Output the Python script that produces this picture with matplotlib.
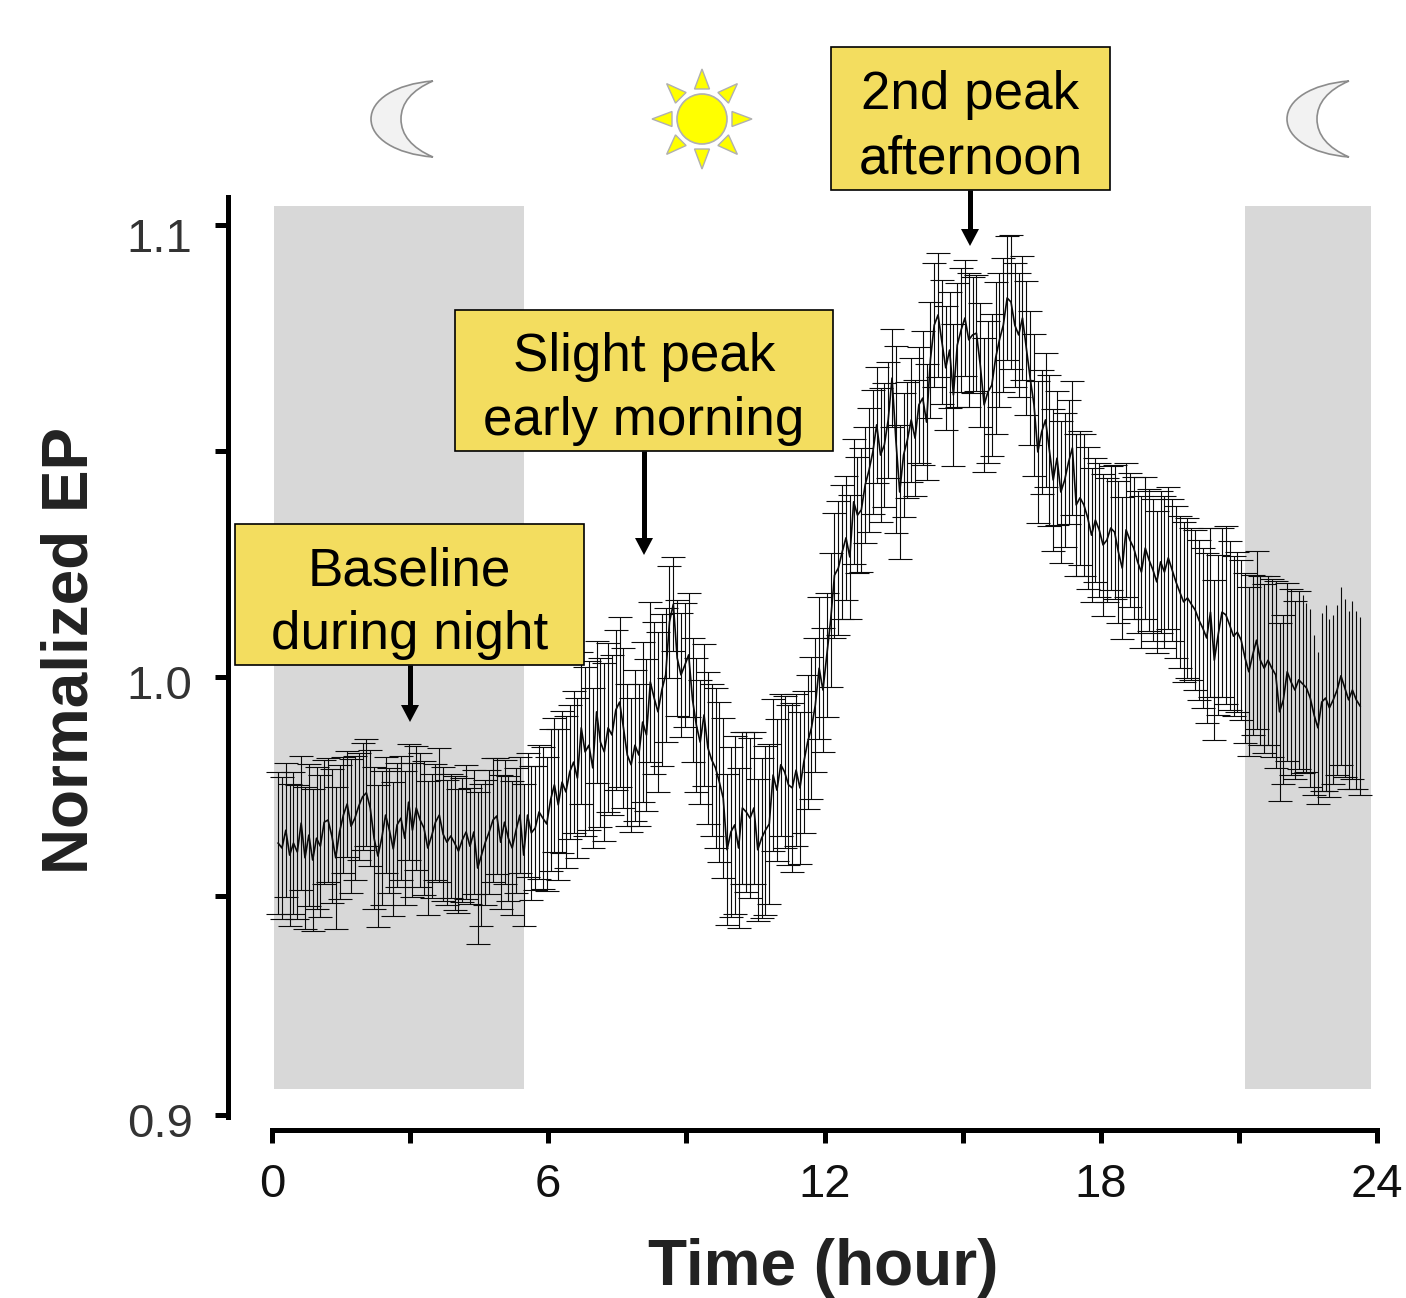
import numpy as np
import matplotlib
matplotlib.use('Agg')
import matplotlib.pyplot as plt
from matplotlib.patches import Polygon, Rectangle, Circle, PathPatch
from matplotlib.path import Path
from matplotlib.transforms import ScaledTranslation

plt.rcParams['font.family'] = ['Liberation Sans', 'DejaVu Sans']

# time of each sample, minutes after midnight
minutes = [8, 13, 18, 23, 28, 33, 38, 43, 48, 53,
           58, 63, 68, 73, 78, 83, 88, 93, 98, 103,
           108, 113, 118, 123, 128, 133, 138, 143, 148, 153,
           158, 163, 168, 173, 178, 183, 188, 193, 198, 203,
           208, 213, 218, 223, 228, 233, 238, 243, 248, 253,
           258, 263, 268, 273, 278, 283, 288, 293, 298, 303,
           308, 313, 318, 323, 328, 333, 338, 343, 348, 353,
           358, 363, 368, 373, 378, 383, 388, 393, 398, 403,
           408, 413, 418, 423, 428, 433, 438, 443, 448, 453,
           458, 463, 468, 473, 478, 483, 488, 493, 498, 503,
           508, 513, 518, 523, 528, 533, 538, 543, 548, 553,
           558, 563, 568, 573, 578, 583, 588, 593, 598, 603,
           608, 613, 618, 623, 628, 633, 638, 643, 648, 653,
           658, 663, 668, 673, 678, 683, 688, 693, 698, 703,
           708, 713, 718, 723, 728, 733, 738, 743, 748, 753,
           758, 763, 768, 773, 778, 783, 788, 793, 798, 803,
           808, 813, 818, 823, 828, 833, 838, 843, 848, 853,
           858, 863, 868, 873, 878, 883, 888, 893, 898, 903,
           908, 913, 918, 923, 928, 933, 938, 943, 948, 953,
           958, 963, 968, 973, 978, 983, 988, 993, 998, 1003,
           1008, 1013, 1018, 1023, 1028, 1033, 1038, 1043, 1048, 1053,
           1058, 1063, 1068, 1073, 1078, 1083, 1088, 1093, 1098, 1103,
           1108, 1113, 1118, 1123, 1128, 1133, 1138, 1143, 1148, 1153,
           1158, 1163, 1168, 1173, 1178, 1183, 1188, 1193, 1198, 1203,
           1208, 1213, 1218, 1223, 1228, 1233, 1238, 1243, 1248, 1253,
           1258, 1263, 1268, 1273, 1278, 1283, 1288, 1293, 1298, 1303,
           1308, 1313, 1318, 1323, 1328, 1333, 1338, 1343, 1348, 1353,
           1358, 1363, 1368, 1373, 1378, 1383, 1388, 1393, 1398, 1403,
           1408, 1413, 1418]

mean_ep = [.9611, .9600, .9640, .9584, .9611, .9591, .9656, .9578, .9629, .9573,
           .9622, .9604, .9658, .9663, .9627, .9578, .9636, .9674, .9699, .9649,
           .9667, .9694, .9715, .9724, .9690, .9622, .9582, .9622, .9674, .9640,
           .9598, .9652, .9667, .9622, .9703, .9640, .9690, .9663, .9645, .9600,
           .9627, .9658, .9674, .9631, .9613, .9627, .9611, .9593, .9618, .9636,
           .9604, .9636, .9555, .9584, .9613, .9636, .9663, .9672, .9613, .9658,
           .9622, .9600, .9640, .9674, .9584, .9674, .9634, .9645, .9681, .9667,
           .9654, .9708, .9742, .9697, .9748, .9726, .9771, .9793, .9757, .9870,
           .9816, .9831, .9780, .9906, .9838, .9816, .9870, .9854, .9910, .9928,
           .9870, .9809, .9787, .9831, .9809, .9883, .9854, .9973, .9937, .9906,
           .9955, .9989, 1.0108, 1.0148, 1.0027, .9989, 1.0011, 1.0034, .9933, .9876,
           .9838, .9899, .9825, .9798, .9780, .9748, .9712, .9596, .9636, .9652,
           .9600, .9690, .9681, .9667, .9690, .9596, .9622, .9640, .9654, .9764,
           .9730, .9787, .9771, .9742, .9735, .9775, .9735, .9793, .9838, .9870,
           .9921, 1.0004, .9955, 1.0034, 1.0112, 1.0213, 1.0229, 1.0265, 1.0297, 1.0254,
           1.0378, 1.0348, 1.0360, 1.0416, 1.0449, 1.0490, 1.0551, 1.0483, 1.0506, 1.0562,
           1.0656, 1.0517, 1.0400, 1.0483, 1.0517, 1.0562, 1.0521, 1.0596, 1.0611, 1.0557,
           1.0697, 1.0775, 1.0798, 1.0737, 1.0679, 1.0719, 1.0618, 1.0730, 1.0764, 1.0791,
           1.0742, 1.0753, 1.0757, 1.0685, 1.0596, 1.0625, 1.0640, 1.0701, 1.0742, 1.0775,
           1.0836, 1.0827, 1.0775, 1.0753, 1.0791, 1.0724, 1.0656, 1.0596, 1.0490, 1.0535,
           1.0562, 1.0494, 1.0427, 1.0476, 1.0400, 1.0427, 1.0467, 1.0499, 1.0371, 1.0387,
           1.0371, 1.0342, 1.0303, 1.0337, 1.0315, 1.0281, 1.0292, 1.0319, 1.0310, 1.0265,
           1.0229, 1.0315, 1.0292, 1.0274, 1.0243, 1.0220, 1.0274, 1.0247, 1.0225, 1.0198,
           1.0243, 1.0220, 1.0252, 1.0225, 1.0198, 1.0175, 1.0153, 1.0162, 1.0148, 1.0135,
           1.0112, 1.0094, 1.0072, 1.0130, 1.0022, 1.0079, 1.0130, 1.0124, 1.0101, 1.0076,
           1.0085, 1.0067, 1.0027, .9996, 1.0034, 1.0067, 1.0022, 1.0004, 1.0022, 1.0004,
           .9989, .9906, .9933, .9996, .9973, .9955, .9978, .9969, .9960, .9937,
           .9899, .9870, .9928, .9937, .9915, .9933, .9955, .9987, .9960, .9933,
           .9955, .9933, .9919]

sem_ep = [.016, .016, .015, .016, .016, .015, .015, .016, .016, .016,
          .016, .016, .014, .014, .015, .016, .015, .013, .012, .015,
          .014, .012, .012, .012, .013, .016, .016, .015, .013, .014,
          .015, .014, .014, .015, .013, .015, .014, .015, .015, .015,
          .014, .013, .015, .015, .014, .014, .015, .014, .014, .015,
          .013, .014, .017, .016, .014, .014, .014, .013, .015, .014,
          .014, .015, .014, .013, .016, .014, .015, .014, .015, .016,
          .015, .016, .015, .017, .016, .017, .015, .016, .018, .017,
          .019, .019, .018, .016, .019, .020, .019, .018, .018, .019,
          .018, .016, .015, .017, .016, .018, .017, .018, .017, .018,
          .017, .015, .0125, .0105, .013, .014, .014, .014, .014, .015,
          .014, .016, .017, .017, .018, .018, .018, .017, .019, .020,
          .018, .017, .018, .018, .017, .016, .018, .019, .018, .017,
          .016, .016, .017, .018, .019, .017, .017, .016, .015, .016,
          .015, .016, .014, .014, .015, .014, .015, .015, .014, .014,
          .014, .013, .014, .013, .014, .014, .013, .015, .014, .013,
          .011, .021, .015, .014, .013, .014, .013, .013, .015, .013,
          .013, .014, .014, .014, .014, .013, .016, .014, .014, .013,
          .015, .013, .013, .014, .015, .016, .016, .017, .015, .015,
          .014, .015, .014, .014, .014, .015, .015, .016, .016, .014,
          .015, .017, .016, .015, .016, .015, .014, .015, .016, .015,
          .016, .016, .015, .014, .015, .016, .014, .014, .015, .016,
          .016, .015, .015, .016, .016, .017, .016, .016, .016, .016,
          .016, .017, .016, .016, .017, .017, .018, .018, .017, .018,
          .018, .018, .019, .019, .018, .018, .019, .020, .019, .018,
          .018, .018, .019, .019, .018, .020, .019, .019, .019, .020,
          .021, .020, .019, .020, .021, .020, .020, .020, .019, .020,
          .018, .017, .020, .021, .020, .019, .019, .020, .020, .020,
          .020, .020, .020]

hour_ticks = [0, 3, 6, 9, 12, 15, 18, 21, 24]
hour_labels = ['0', '', '6', '', '12', '', '18', '', '24']
ep_ticks = [0.9, 0.9492, 0.9984, 1.0492, 1.1]
ep_labels = ['0.9', '', '1.0', '', '1.1']
night_spans = [(0.04, 5.47), (21.14, 23.87)]

hours = np.array(minutes) / 60
mean_ep = np.array(mean_ep)
sem_ep = np.array(sem_ep)

W, H = 1406, 1298
fig = plt.figure(figsize=(W / 100, H / 100), dpi=100)
ax = fig.add_axes([228 / W, (H - 1130) / H, (1377 - 228) / W, (1130 - 197) / H])
ax.set_xlim(-44 / 46.04, 24)
ax.set_ylim(0.9 - 15 / 4450, 1.1 + 28 / 4450)

for x0, x1 in night_spans:
    ax.add_patch(Rectangle((x0, 0.9058), x1 - x0, 1.1043 - 0.9058, color='#d8d8d8', lw=0, zorder=0))

line, caps, bars = ax.errorbar(hours, mean_ep, yerr=sem_ep, color='#0a0a0a', lw=1.2, elinewidth=0.8,
                               capsize=8.6, capthick=0.8, zorder=2)
# the upper caps stop a little before the end of the record
caps[1].set_data(hours[:267], (mean_ep + sem_ep)[:267])

for s in ['top', 'right']:
    ax.spines[s].set_visible(False)
ax.spines['left'].set_linewidth(3.6)
ax.spines['bottom'].set_linewidth(3.6)
ax.spines['left'].set_bounds(0.8995, 1.1063)
ax.spines['bottom'].set_bounds(0, 24)

ax.set_xticks(hour_ticks)
ax.set_xticklabels(hour_labels, fontsize=34, color='#111111')
ax.set_yticks(ep_ticks)
ax.set_yticklabels(ep_labels, fontsize=34, color='#333333')
ax.tick_params(axis='x', length=9.5, width=3.6, pad=14)
ax.tick_params(axis='y', length=9.5, width=3.6, pad=16)
for lab, dy in zip(ax.get_yticklabels(), [5, 0, 5, 0, 10]):
    lab.set_transform(lab.get_transform() + ScaledTranslation(0, -dy / 100, fig.dpi_scale_trans))

# pixel overlay for the notes and icons
top = fig.add_axes([0, 0, 1, 1])
top.set_xlim(0, W)
top.set_ylim(H, 0)
top.axis('off')

top.text(823, 1268, 'Time (hour)', fontsize=46, fontweight='bold', color='#222222', ha='center', va='center')
top.text(71, 650, 'Normalized EP', fontsize=46, fontweight='bold', color='#222222', ha='center', va='center',
         rotation=90)

notes = [((235, 524, 584, 665), ['Baseline', 'during night'], (410, 665, 722)),
         ((455, 310, 833, 451), ['Slight peak', 'early morning'], (644, 451, 555)),
         ((831, 47, 1110, 190), ['2nd peak', 'afternoon'], (970, 190, 246))]
for (x0, y0, x1, y1), lines, (ax_x, ay0, ay1) in notes:
    top.add_patch(Rectangle((x0, y0), x1 - x0, y1 - y0, fc='#f3dd5f', ec='black', lw=1.2))
    cx = (x0 + x1) / 2
    cy = (y0 + y1) / 2
    top.text(cx, cy - 23, lines[0], fontsize=38.2, color='black', ha='center', va='center')
    top.text(cx, cy + 41, lines[1], fontsize=38.2, color='black', ha='center', va='center')
    top.plot([ax_x, ax_x], [ay0, ay1 - 14], color='black', lw=3.6, solid_capstyle='butt')
    top.add_patch(Polygon([(ax_x - 9, ay1 - 17), (ax_x + 9, ay1 - 17), (ax_x, ay1)], fc='black', ec='none'))


def moon(dx):
    verts = [(433 + dx, 81), (395 + dx, 84), (371 + dx, 100), (371 + dx, 119),
             (371 + dx, 138), (395 + dx, 154), (433 + dx, 157),
             (412 + dx, 148), (401 + dx, 135), (401 + dx, 119),
             (401 + dx, 103), (412 + dx, 90), (433 + dx, 81)]
    codes = [Path.MOVETO] + [Path.CURVE4] * 12
    top.add_patch(PathPatch(Path(verts, codes), fc='#f2f2f2', ec='#8c8c8c', lw=1.2))


moon(0)
moon(916)

sx, sy = 702, 119
top.add_patch(Circle((sx, sy), 25, fc='#ffff00', ec='#b0b0b0', lw=1.2))
for a in np.arange(8) * np.pi / 4:
    u = np.array([np.cos(a), np.sin(a)])
    v = np.array([-u[1], u[0]])
    c = np.array([sx, sy])
    top.add_patch(Polygon([c + u * 50, c + u * 30 + v * 7.5, c + u * 30 - v * 7.5],
                          fc='#ffff00', ec='#b0b0b0', lw=1.0))

fig.savefig('out.png', dpi=100)
